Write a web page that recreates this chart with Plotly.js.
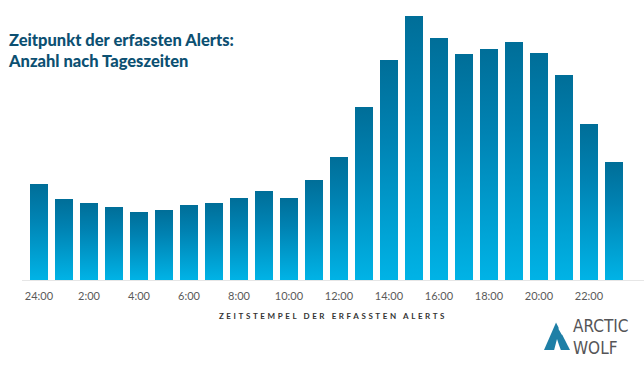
<!DOCTYPE html>
<html>
<head>
<meta charset="utf-8">
<script src="https://cdn.plot.ly/plotly-3.0.1.min.js"></script>
<style>
  html, body { margin: 0; padding: 0; background: #fff; }
  #chart { width: 644px; height: 368px; }
  .xtitle { letter-spacing: 2.6px; }
</style>
</head>
<body>
<div id="chart"></div>
<script>
// Data (relative alert counts, arbitrary units)
const hours = ["24:00","1:00","2:00","3:00","4:00","5:00","6:00","7:00","8:00","9:00","10:00","11:00",
               "12:00","13:00","14:00","15:00","16:00","17:00","18:00","19:00","20:00","21:00","22:00","23:00"];
const alerts = [96, 81, 77, 73, 68, 70, 75, 77, 82, 89, 82, 100,
                123, 173, 220, 264, 242, 226, 231, 238, 227, 205, 156, 118];
const tickLabels = ["24:00","2:00","4:00","6:00","8:00","10:00","12:00","14:00","16:00","18:00","20:00","22:00"];

const W = 644, H = 368;
const M = {l: 22, r: 0, t: 15, b: 88};
const PW = W - M.l - M.r, PH = H - M.t - M.b;
// helpers for decorative logo placement (pixel -> paper)
const px = x => (x - M.l) / PW;
const py = y => (H - M.b - y) / PH;

const trace = {
  type: 'bar',
  x: hours,
  y: alerts,
  marker: { color: '#0091c4', line: { width: 0 } },
  hoverinfo: 'x+y'
};

const layout = {
  width: W, height: H,
  margin: M,
  paper_bgcolor: '#ffffff',
  plot_bgcolor: '#ffffff',
  showlegend: false,
  bargap: 0.28,
  title: {
    text: 'Zeitpunkt der erfassten Alerts:<br>Anzahl nach Tageszeiten',
    x: 9 / W, xanchor: 'left', xref: 'container',
    y: 1 - 46 / H, yanchor: 'top', yref: 'container',
    font: { family: 'Lato, "Open Sans", sans-serif', size: 16.5, color: '#0c5072', weight: 900 }
  },
  xaxis: {
    type: 'category',
    range: [-0.68, 24.2],
    tickmode: 'array',
    tickvals: tickLabels,
    ticktext: tickLabels,
    ticks: '',
    showgrid: false,
    zeroline: false,
    showline: true,
    linecolor: '#e6e6e6',
    linewidth: 1,
    tickfont: { family: 'Lato, "Open Sans", sans-serif', size: 11, color: '#5a5a5a' },
    ticklabelstandoff: 6,
    title: {
      text: 'ZEITSTEMPEL DER ERFASSTEN ALERTS',
      standoff: 12,
      font: { family: 'Lato, "Open Sans", sans-serif', size: 8, color: '#333333', weight: 'bold' }
    },
    fixedrange: true
  },
  yaxis: {
    range: [0, PH],
    visible: false,
    showgrid: false,
    zeroline: false,
    fixedrange: true
  },
  shapes: [
    { type: 'path', xref: 'paper', yref: 'paper', layer: 'above',
      path: `M ${px(544)} ${py(350)} L ${px(556)} ${py(322.5)} L ${px(570)} ${py(350)} Z`,
      fillcolor: '#1e7fa6', line: { width: 0 } },
    { type: 'path', xref: 'paper', yref: 'paper', layer: 'above',
      path: `M ${px(554)} ${py(350.5)} L ${px(557)} ${py(339)} L ${px(559)} ${py(345)} L ${px(561)} ${py(350.5)} Z`,
      fillcolor: '#ffffff', line: { width: 0 } },
    { type: 'path', xref: 'paper', yref: 'paper', layer: 'above',
      path: `M ${px(559)} ${py(327)} L ${px(563)} ${py(334)} L ${px(562)} ${py(335)} L ${px(558.5)} ${py(329)} Z`,
      fillcolor: '#ffffff', line: { width: 0 } }
  ],
  annotations: [
    { text: 'ARCTIC<br>WOLF', align: 'left', xref: 'paper', yref: 'paper', x: px(570.5), y: py(337), xanchor: 'left', yanchor: 'middle',
      showarrow: false, font: { family: '"Liberation Sans Narrow", "DejaVu Sans Condensed", Roboto, sans-serif', size: 17, color: '#555557' } }
  ]
};

function applyGradient(gd) {
  const svg = gd.querySelector('svg.main-svg');
  if (!svg) return;
  const ns = 'http://www.w3.org/2000/svg';
  let defs = svg.querySelector('defs');
  if (!defs) { defs = document.createElementNS(ns, 'defs'); svg.insertBefore(defs, svg.firstChild); }
  if (!svg.querySelector('#barGrad')) {
    const g = document.createElementNS(ns, 'linearGradient');
    g.setAttribute('id', 'barGrad');
    g.setAttribute('x1', '0'); g.setAttribute('y1', '0');
    g.setAttribute('x2', '0'); g.setAttribute('y2', '1');
    [['0', '#006e98'], ['0.35', '#0082b2'], ['1', '#00b3e6']].forEach(([o, c]) => {
      const s = document.createElementNS(ns, 'stop');
      s.setAttribute('offset', o); s.setAttribute('stop-color', c);
      g.appendChild(s);
    });
    defs.appendChild(g);
  }
  gd.querySelectorAll('.barlayer .point path').forEach(p => { p.style.fill = 'url(#barGrad)'; });
}

const gd = document.getElementById('chart');
Plotly.newPlot(gd, [trace], layout, { displayModeBar: false, staticPlot: true }).then(() => {
  applyGradient(gd);
  gd.on && gd.on('plotly_afterplot', () => applyGradient(gd));
});
</script>
</body>
</html>
